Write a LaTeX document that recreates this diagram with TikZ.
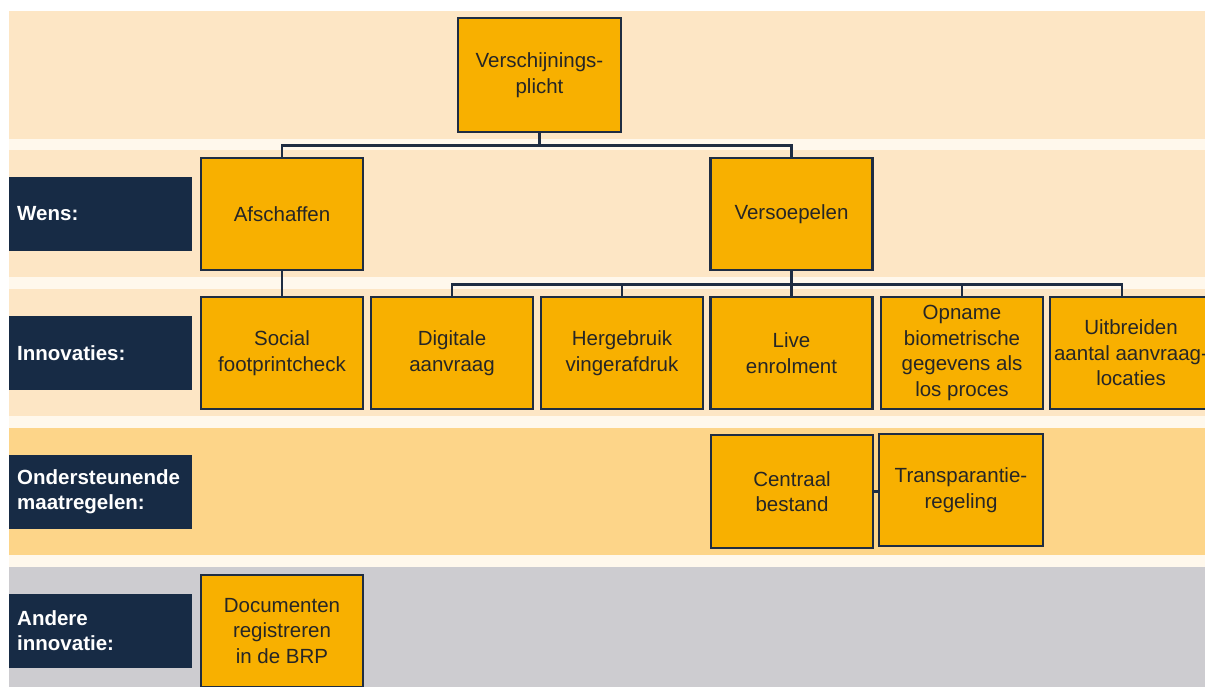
\documentclass[tikz,border=0pt]{standalone}
\usepackage{fontspec}
\setmainfont{Liberation Sans}
\definecolor{cream}{HTML}{FFF8EC}
\definecolor{peach}{HTML}{FDE6C5}
\definecolor{peachdark}{HTML}{FDD589}
\definecolor{greyband}{HTML}{CDCCD0}
\definecolor{navy}{HTML}{172B45}
\definecolor{boxline}{HTML}{1F2D42}
\definecolor{boxfill}{HTML}{F8B000}
\definecolor{boxtext}{HTML}{262626}
\tikzset{
  orgbox/.style={draw=boxline, line width=2.8pt, fill=boxfill, text=boxtext,
    minimum width=162pt, minimum height=112pt, inner sep=0pt, align=center,
    font=\fontsize{20.5pt}{25.5pt}\selectfont},
  rowlabel/.style={fill=navy, text=white, anchor=west, minimum width=183pt,
    minimum height=74pt, inner sep=8pt, align=left, text width=167pt,
    font=\fontsize{20.5pt}{25.5pt}\selectfont\bfseries},
  conn/.style={draw=boxline, line width=2.6pt}
}
\begin{document}
\begin{tikzpicture}[x=1pt,y=-1pt]
\useasboundingbox (0,0) rectangle (1205,686);
\clip (0,0) rectangle (1205,686);
\fill[white] (0,0) rectangle (1205,686);
\fill[cream] (9,11) rectangle (1205,686);
\fill[peach] (9,11) rectangle (1205,139);
\fill[peach] (9,150) rectangle (1205,277);
\fill[peach] (9,289) rectangle (1205,416);
\fill[peachdark] (9,428) rectangle (1205,555);
\fill[greyband] (9,567) rectangle (1205,690);

% row labels
\node[rowlabel] (lw) at (9,214) {Wens:};
\node[rowlabel] (li) at (9,353) {Innovaties:};
\node[rowlabel] (lo) at (9,491.5) {Ondersteunende\\maatregelen:};
\node[rowlabel] (la) at (9,630.5) {Andere\\innovatie:};

% boxes
\node[orgbox, minimum width=163pt, minimum height=114pt] (v) at (539.5,75) {Verschijnings-\\plicht};
\node[orgbox] (af) at (282,214) {Afschaffen};
\node[orgbox] (vs) at (791.5,214) {Versoepelen};
\node[orgbox] (so) at (282,353) {Social\\footprintcheck};
\node[orgbox] (di) at (452,353) {Digitale\\aanvraag};
\node[orgbox] (he) at (622,353) {Hergebruik\\vingerafdruk};
\node[orgbox] (li2) at (791.5,353) {Live\\enrolment};
\node[orgbox] (op) at (962,353) {Opname\\biometrische\\gegevens als\\los proces};
\node[orgbox] (ui) at (1131,353) {Uitbreiden\\aantal aanvraag-\\locaties};
\node[orgbox, minimum width=162pt, minimum height=113pt] (ce) at (792,491.5) {Centraal\\bestand};
\node[orgbox, minimum width=164pt] (tr) at (961,490) {Transparantie-\\regeling};
\node[orgbox] (do) at (282,631) {Documenten\\registreren\\in de BRP};

% connectors
\draw[conn] (v.south) -- ++(0,12) -| (af.north);
\draw[conn] (v.south) -- ++(0,12) -| (vs.north);
\draw[conn] (af.south) -- (so.north);
\draw[conn] (vs.south) -- ++(0,13) -| (di.north);
\draw[conn] (vs.south) -- ++(0,13) -| (he.north);
\draw[conn] (vs.south) -- (li2.north);
\draw[conn] (vs.south) -- ++(0,13) -| (op.north);
\draw[conn] (vs.south) -- ++(0,13) -| ([xshift=-9pt]ui.north);
\draw[conn] (ce.east) -- (ce.east -| tr.west);
\end{tikzpicture}
\end{document}
